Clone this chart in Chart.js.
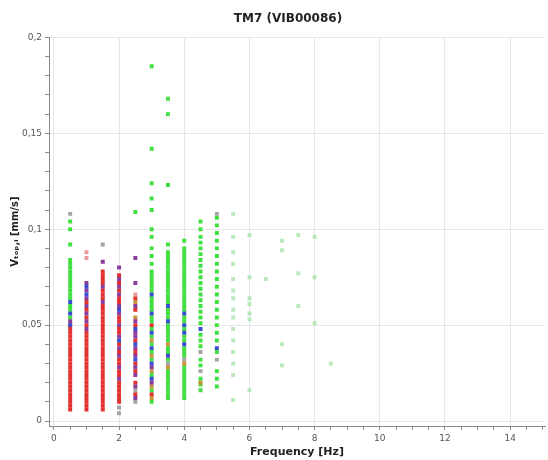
<!DOCTYPE html>
<html>
<head>
<meta charset="utf-8">
<script src="https://cdn.jsdelivr.net/npm/chart.js@4.4.1/dist/chart.umd.min.js"></script>
<style>
  html, body { margin: 0; padding: 0; background: #ffffff; }
  #wrap { width: 548px; height: 460px; }
</style>
</head>
<body>
<div id="wrap"><canvas id="c" width="548" height="460"></canvas></div>
<script>
// ---- tick values (x every 0.5 Hz, labelled every 2; y every 0.01, labelled every 0.05)
const xTickValues = [0,0.5,1,1.5,2,2.5,3,3.5,4,4.5,5,5.5,6,6.5,7,7.5,8,8.5,9,9.5,10,10.5,11,11.5,12,12.5,13,13.5,14,14.5,15];
const yTickValues = [0,0.01,0.02,0.03,0.04,0.05,0.06,0.07,0.08,0.09,0.1,0.11,0.12,0.13,0.14,0.15,0.16,0.17,0.18,0.19,0.2];
const xLabelled = [0,2,4,6,8,10,12,14];
const yLabelled = ["0","0,05","0,1","0,15","0,2"];

// ---- series: [frequency (Hz), [velocities (mm/s)]]
const redSeries = [
  [0.5, [0.006,0.008,0.010,0.012,0.014,0.016,0.018,0.020,0.022,0.024,0.026,0.028,0.030,0.032,0.034,0.036,0.038,0.040,0.042,0.044,0.046,0.048,0.050]],
  [1,   [0.006,0.008,0.010,0.012,0.014,0.016,0.018,0.020,0.022,0.024,0.026,0.028,0.030,0.032,0.034,0.036,0.038,0.040,0.042,0.044,0.046,0.050,0.054,0.058,0.062]],
  [1.5, [0.006,0.008,0.010,0.012,0.014,0.016,0.018,0.020,0.022,0.024,0.026,0.028,0.030,0.032,0.034,0.036,0.038,0.040,0.042,0.044,0.046,0.048,0.050,0.052,0.054,0.056,0.058,0.060,0.064,0.066,0.068,0.072,0.074,0.076,0.078]],
  [2,   [0.010,0.012,0.014,0.016,0.018,0.020,0.024,0.026,0.030,0.032,0.036,0.040,0.046,0.048,0.052,0.054,0.062,0.064,0.068,0.072,0.076]],
  [2.5, [0.014,0.020,0.026,0.030,0.036,0.042,0.050,0.058,0.064]],
  [3,   [0.014,0.050]]
];
const greenSeries = [
  [0.5, [0.054,0.058,0.060,0.064,0.066,0.068,0.070,0.072,0.074,0.076,0.078,0.080,0.082,0.084,0.092,0.100,0.104]],
  [2.5, [0.109]],
  [3,   [0.010,0.016,0.024,0.032,0.036,0.040,0.044,0.048,0.052,0.054,0.058,0.060,0.062,0.064,0.068,0.070,0.072,0.074,0.076,0.078,0.082,0.086,0.090,0.096,0.100,0.110,0.116,0.124,0.142,0.185]],
  [3.5, [0.012,0.014,0.016,0.018,0.020,0.022,0.024,0.026,0.032,0.036,0.038,0.042,0.044,0.046,0.048,0.050,0.054,0.056,0.058,0.062,0.064,0.066,0.068,0.070,0.072,0.074,0.076,0.078,0.080,0.082,0.084,0.086,0.088,0.092,0.123,0.160,0.168]],
  [4,   [0.012,0.014,0.016,0.018,0.020,0.022,0.024,0.026,0.028,0.034,0.036,0.038,0.042,0.044,0.048,0.052,0.054,0.058,0.060,0.062,0.064,0.066,0.068,0.070,0.072,0.074,0.076,0.078,0.080,0.082,0.084,0.086,0.088,0.090,0.094]],
  [4.5, [0.016,0.019,0.022,0.029,0.032,0.039,0.042,0.045,0.051,0.054,0.057,0.060,0.063,0.066,0.069,0.072,0.075,0.078,0.081,0.084,0.087,0.090,0.093,0.096,0.100,0.104]],
  [5,   [0.018,0.022,0.026,0.036,0.042,0.046,0.050,0.054,0.058,0.062,0.066,0.070,0.074,0.078,0.082,0.086,0.090,0.094,0.098,0.102,0.106]]
];
const paleGreenSeries = [
  [5.5, [0.011,0.024,0.030,0.036,0.042,0.048,0.054,0.058,0.064,0.068,0.074,0.082,0.088,0.096,0.108]],
  [6,   [0.016,0.053,0.056,0.061,0.064,0.075,0.097]],
  [6.5, [0.074]],
  [7,   [0.029,0.040,0.089,0.094]],
  [7.5, [0.060,0.077,0.097]],
  [8,   [0.051,0.075,0.096]],
  [8.5, [0.030]]
];
const blueSeries = [
  [0.5, [0.050,0.056,0.062]],
  [1,   [0.066,0.070]],
  [2,   [0.042,0.058]],
  [2.5, [0.032,0.040,0.048]],
  [3,   [0.022,0.030,0.038,0.046,0.056,0.066]],
  [3.5, [0.034,0.052,0.060]],
  [4,   [0.040,0.046,0.050,0.056]],
  [4.5, [0.048]],
  [5,   [0.038]]
];
const purpleSeries = [
  [0.5, [0.052]],
  [1,   [0.048,0.052,0.056,0.060,0.064,0.068,0.072]],
  [1.5, [0.062,0.070,0.083]],
  [2,   [0.022,0.028,0.034,0.038,0.044,0.050,0.056,0.060,0.066,0.070,0.074,0.080]],
  [2.5, [0.012,0.018,0.024,0.028,0.034,0.038,0.044,0.046,0.052,0.060,0.072,0.085]],
  [3,   [0.020,0.028]]
];
const orangeSeries = [
  [2.5, [0.054,0.062]],
  [3,   [0.012,0.018,0.026,0.034,0.042]],
  [3.5, [0.028,0.040]],
  [4,   [0.030]],
  [4.5, [0.020]]
];
const graySeries = [
  [0.5, [0.108]],
  [1.5, [0.092]],
  [2,   [0.004,0.007]],
  [2.5, [0.010,0.016]],
  [3.5, [0.030]],
  [4,   [0.032]],
  [4.5, [0.026,0.036]],
  [5,   [0.032,0.108]]
];
const pinkSeries = [
  [1,   [0.085,0.088]],
  [2.5, [0.066]]
];

function toPoints(series) {
  return series.flatMap(([f, ys]) => ys.map(v => ({ x: f, y: v })));
}
function ds(label, series, color) {
  return {
    label, data: toPoints(series),
    backgroundColor: color, borderWidth: 0,
    pointStyle: 'rect', pointRadius: 2.8, pointHoverRadius: 2.8
  };
}

const FONT = "'DejaVu Sans', Verdana, sans-serif";

const titleShift = {
  id: 'titleShift',
  afterLayout(chart) {
    if (chart.titleBlock) { chart.titleBlock.left = 28; chart.titleBlock.right = 548; }
  }
};

new Chart(document.getElementById('c'), {
  type: 'scatter',
  data: {
    datasets: [
      ds('blue', blueSeries, '#3a4ccf'),
      ds('purple', purpleSeries, '#8a3c9e'),
      ds('orange', orangeSeries, '#c8923c'),
      ds('gray', graySeries, '#a4a4a4'),
      ds('pink', pinkSeries, '#ec9a9a'),
      ds('green', greenSeries, '#40e040'),
      ds('paleGreen', paleGreenSeries, 'rgba(130,215,130,0.55)'),
      ds('red', redSeries, '#e2312e')
    ]
  },
  plugins: [titleShift],
  options: {
    responsive: false,
    animation: false,
    events: [],
    layout: { padding: { left: 0, right: 3, top: 0, bottom: 0 } },
    plugins: {
      legend: { display: false },
      tooltip: { enabled: false },
      title: {
        display: true,
        text: 'TM7 (VIB00086)',
        color: '#222',
        font: { family: FONT, size: 12, weight: 'bold' },
        padding: { top: 12, bottom: 11 }
      }
    },
    scales: {
      x: {
        type: 'linear',
        min: -0.15, max: 15.07,
        afterBuildTicks(scale) { scale.ticks = xTickValues.map(v => ({ value: v })); },
        afterFit(scale) { scale.height = 34; },
        ticks: {
          autoSkip: false, maxRotation: 0, padding: 3,
          color: '#555', font: { family: FONT, size: 9 },
          callback(v) { return xLabelled.includes(v) ? String(v) : ''; }
        },
        grid: {
          color: ctx => (ctx.tick && xLabelled.includes(ctx.tick.value)) ? '#e6e6e6' : 'rgba(0,0,0,0)',
          tickColor: '#8a8a8a', tickLength: 4
        },
        border: { color: '#8a8a8a' },
        title: {
          display: true, text: 'Frequency [Hz]', color: '#222',
          font: { family: FONT, size: 11, weight: 'bold' },
          padding: { top: 0, bottom: 1 }
        }
      },
      y: {
        type: 'linear',
        min: -0.0026, max: 0.2,
        afterBuildTicks(scale) { scale.ticks = yTickValues.map(v => ({ value: v })); },
        afterFit(scale) { scale.width = 49; },
        ticks: {
          autoSkip: false, padding: 3,
          color: '#555', font: { family: FONT, size: 9 },
          callback(v) {
            const i = Math.round(v * 100);
            return i % 5 === 0 ? yLabelled[i / 5] : '';
          }
        },
        grid: {
          color: ctx => (ctx.tick && Math.round(ctx.tick.value * 100) % 5 === 0) ? '#e6e6e6' : 'rgba(0,0,0,0)',
          tickColor: '#8a8a8a', tickLength: 4
        },
        border: { color: '#8a8a8a' },
        title: {
          display: true, text: 'Vₜₒₚ,ᵢ [mm/s]', color: '#222',
          font: { family: FONT, size: 10, weight: 'bold' },
          padding: { top: 9, bottom: 0 }
        }
      }
    }
  }
});
</script>
</body>
</html>
